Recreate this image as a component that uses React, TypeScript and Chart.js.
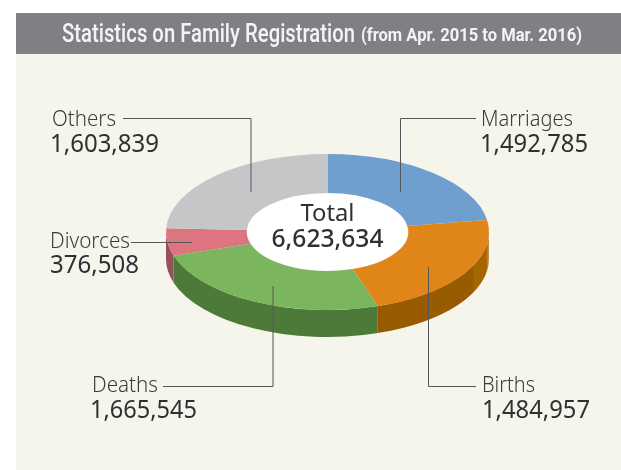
import React, { useEffect, useRef } from "react";
import { Chart, registerables } from "chart.js";

Chart.register(...registerables);

const categories = ["Marriages", "Births", "Deaths", "Divorces", "Others"];
const values = [1492785, 1484957, 1665545, 376508, 1603839];
const valueLabels = ["1,492,785", "1,484,957", "1,665,545", "376,508", "1,603,839"];
const totalLabel = "Total";
const totalValue = "6,623,634";
const titleMain = "Statistics on Family Registration";
const titleSub = "(from Apr. 2015 to Mar. 2016)";
const topColors = ["#6f9fce", "#e08618", "#7bb55d", "#dd7580", "#c5c6c8"];
const sideColors = ["#4a6f90", "#985b00", "#4e7a39", "#95505a", "#8a8b8d"];

// Layout of the label blocks: name x/width, baseline, value x/width, baseline
const labelBoxes = [
  { nx: 481, nw: 92, ny: 126, vx: 480, vw: 108, vy: 152 },
  { nx: 482, nw: 53, ny: 392, vx: 482, vw: 108, vy: 418 },
  { nx: 92, nw: 66, ny: 392, vx: 90, vw: 107, vy: 418 },
  { nx: 50, nw: 80, ny: 248, vx: 50, vw: 89, vy: 273 },
  { nx: 52, nw: 64, ny: 126, vx: 50, vw: 109, vy: 152 },
];
const leaders: number[][][] = [
  [[476, 118.5], [400.5, 118.5], [400.5, 192]],
  [[476, 386.5], [428.5, 386.5], [428.5, 267]],
  [[163, 386.5], [273, 386.5], [273, 286]],
  [[131, 242.5], [192, 242.5]],
  [[123, 118.5], [251, 118.5], [251, 192]],
];

const TILT = 0.483;
const DEPTH = 27;
const LABEL_FONT = '300 21px "Noto Sans"';
const VALUE_FONT = '400 26px "Noto Sans"';

function fitText(ctx: CanvasRenderingContext2D, text: string, x: number, y: number, width: number, font: string, color: string) {
  ctx.save();
  ctx.font = font;
  ctx.fillStyle = color;
  ctx.textAlign = "left";
  ctx.textBaseline = "alphabetic";
  const w = ctx.measureText(text).width;
  ctx.translate(x, y);
  ctx.scale(width / w, 1);
  ctx.fillText(text, 0, 0);
  ctx.restore();
}

const pie3d = {
  id: "pie3d",
  beforeDraw(chart: any) {
    const { ctx, width, height } = chart;
    ctx.save();
    ctx.fillStyle = "#ffffff";
    ctx.fillRect(0, 0, width, height);
    ctx.fillStyle = "#f5f5ec";
    ctx.fillRect(16, 54, width - 16, height - 54);
    ctx.fillStyle = "#7f8084";
    ctx.fillRect(16, 13, width - 16, 41);
    ctx.restore();
    fitText(ctx, titleMain, 62, 42, 293, '500 25px "Roboto"', "#f4f4f4");
    fitText(ctx, titleSub, 361, 41, 221, '700 18px "Roboto"', "#f4f4f4");
  },
  beforeDatasetsDraw(chart: any) {
    const { ctx } = chart;
    const arcs = chart.getDatasetMeta(0).data;
    const { x: cx, y: cy, outerRadius: R, innerRadius: r } = arcs[0];
    ctx.save();
    arcs.forEach((arc: any, i: number) => {
      const a0 = Math.max(arc.startAngle, 0);
      const a1 = Math.min(arc.endAngle, Math.PI);
      if (a1 <= a0) return;
      ctx.beginPath();
      ctx.ellipse(cx, cy, R, R * TILT, 0, a0, a1);
      ctx.ellipse(cx, cy + DEPTH, R, R * TILT, 0, a1, a0, true);
      ctx.closePath();
      const g = ctx.createLinearGradient(cx + R - 16, 0, cx + R, 0);
      g.addColorStop(0, sideColors[i]);
      g.addColorStop(0.1, "#a86600");
      g.addColorStop(0.8, "#a56300");
      g.addColorStop(1, "#c9924a");
      ctx.fillStyle = a0 === 0 ? g : sideColors[i];
      ctx.fill();
    });
    ctx.beginPath();
    ctx.ellipse(cx, cy, r, r * TILT, 0, 0, Math.PI * 2);
    ctx.fillStyle = "#ffffff";
    ctx.fill();
    ctx.restore();
    ctx.save();
    ctx.translate(0, cy);
    ctx.scale(1, TILT);
    ctx.translate(0, -cy);
  },
  afterDatasetsDraw(chart: any) {
    const { ctx } = chart;
    ctx.restore();
    const { x: cx } = chart.getDatasetMeta(0).data[0];
    ctx.save();
    ctx.strokeStyle = "#55565a";
    ctx.lineWidth = 1;
    leaders.forEach((pts) => {
      ctx.beginPath();
      pts.forEach(([x, y], i) => (i ? ctx.lineTo(x, y) : ctx.moveTo(x, y)));
      ctx.stroke();
    });
    ctx.restore();
    categories.forEach((name, i) => {
      const b = labelBoxes[i];
      fitText(ctx, name, b.nx, b.ny, b.nw, LABEL_FONT, "#3c3c3e");
      fitText(ctx, valueLabels[i], b.vx, b.vy, b.vw, VALUE_FONT, "#303032");
    });
    fitText(ctx, totalLabel, cx - 27, 221, 54, '400 23px "Noto Sans"', "#303032");
    fitText(ctx, totalValue, cx - 56, 247, 112, '500 26px "Noto Sans"', "#303032");
  },
};

export default function App() {
  const ref = useRef<HTMLCanvasElement>(null);
  useEffect(() => {
    const chart = new Chart(ref.current as HTMLCanvasElement, {
      type: "doughnut",
      data: {
        labels: categories,
        datasets: [{ data: values, backgroundColor: topColors, borderWidth: 0 }],
      },
      options: {
        animation: false,
        responsive: false,
        cutout: "50%",
        layout: { padding: { left: 166, right: 132, top: 70.5, bottom: 76.5 } },
        plugins: { legend: { display: false }, tooltip: { enabled: false }, title: { display: false } },
      },
      plugins: [pie3d],
    } as any);
    return () => chart.destroy();
  }, []);
  return <canvas ref={ref} width={621} height={470} style={{ position: "absolute", left: 0, top: 0, display: "block" }} />;
}
